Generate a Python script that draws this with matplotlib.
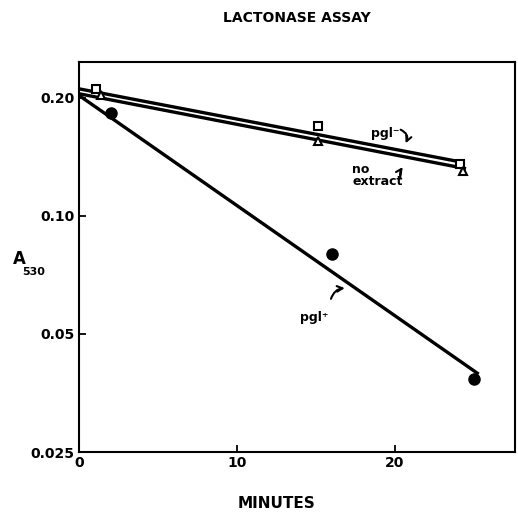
import matplotlib
matplotlib.use('Agg')
import matplotlib.pyplot as plt
import matplotlib.ticker as mticker

plt.rcParams['font.family'] = ['Liberation Sans Narrow', 'DejaVu Sans']
plt.rcParams['font.weight'] = 'bold'

# measured points (minutes, A530)
pgl_minus_x = [1.1, 15.1, 24.1]
pgl_minus_y = [0.211, 0.170, 0.136]
no_extract_x = [1.4, 15.1, 24.3]
no_extract_y = [0.203, 0.155, 0.130]
pgl_plus_x = [2.0, 16.0, 25.0]
pgl_plus_y = [0.183, 0.080, 0.0383]

# fitted lines (end points)
pgl_minus_fit_x = [0.0, 24.3]
pgl_minus_fit_y = [0.211, 0.137]
no_extract_fit_x = [0.0, 24.5]
no_extract_fit_y = [0.205, 0.132]
pgl_plus_fit_x = [0.0, 25.3]
pgl_plus_fit_y = [0.203, 0.0395]

y_ticks = [0.025, 0.05, 0.10, 0.20]
y_tick_labels = ['0.025', '0.05', '0.10', '0.20']
x_ticks = [0, 10, 20]

fig = plt.figure(figsize=(5.18, 5.14), dpi=100)
ax = fig.add_axes([0.1525, 0.1206, 0.8417, 0.7588])

lw = 2.4
ax.plot(pgl_minus_fit_x, pgl_minus_fit_y, color='black', lw=lw, solid_capstyle='butt')
ax.plot(no_extract_fit_x, no_extract_fit_y, color='black', lw=lw, solid_capstyle='butt')
ax.plot(pgl_plus_fit_x, pgl_plus_fit_y, color='black', lw=lw, solid_capstyle='butt')

ax.plot(pgl_minus_x, pgl_minus_y, 's', ms=6, mfc='white', mec='black', mew=1.5, ls='none')
ax.plot(no_extract_x, no_extract_y, '^', ms=6, mfc='white', mec='black', mew=1.5, ls='none')
ax.plot(pgl_plus_x, pgl_plus_y, 'o', ms=8, color='black', ls='none')

ax.set_yscale('log')
ax.set_xlim(0, 27.6)
ax.set_ylim(0.025, 0.247)
ax.yaxis.set_major_locator(mticker.FixedLocator(y_ticks))
ax.yaxis.set_major_formatter(mticker.FixedFormatter(y_tick_labels))
ax.yaxis.set_minor_locator(mticker.NullLocator())
ax.set_xticks(x_ticks)
ax.tick_params(direction='in', length=5, width=1.3, labelsize=10, pad=3)
for s in ax.spines.values():
    s.set_linewidth(1.5)

# annotations
ax.text(18.5, 0.162, 'pgl⁻', fontsize=9, va='center', ha='left')
ax.annotate('', xy=(20.6, 0.151), xytext=(20.2, 0.167),
            arrowprops=dict(arrowstyle='->', lw=1.5, color='black',
                            connectionstyle='arc3,rad=-0.6'))
ax.text(17.3, 0.127, 'no\nextract', fontsize=9, va='center', ha='left',
        linespacing=0.9)
ax.annotate('', xy=(20.6, 0.135), xytext=(20.4, 0.123),
            arrowprops=dict(arrowstyle='->', lw=1.5, color='black',
                            connectionstyle='arc3,rad=-0.3'))
ax.text(14.0, 0.0552, 'pgl⁺', fontsize=9, va='center', ha='left')
ax.annotate('', xy=(17.0, 0.0655), xytext=(15.9, 0.0605),
            arrowprops=dict(arrowstyle='->', lw=1.5, color='black',
                            connectionstyle='arc3,rad=-0.4'))

fig.text(0.573, 0.965, 'LACTONASE ASSAY', ha='center', va='center', fontsize=10)
fig.text(0.533, 0.0195, 'MINUTES', ha='center', va='center', fontsize=11)
fig.text(0.024, 0.497, 'A', ha='left', va='center', fontsize=12)
fig.text(0.043, 0.470, '530', ha='left', va='center', fontsize=8)

fig.savefig('out.png', dpi=100)
